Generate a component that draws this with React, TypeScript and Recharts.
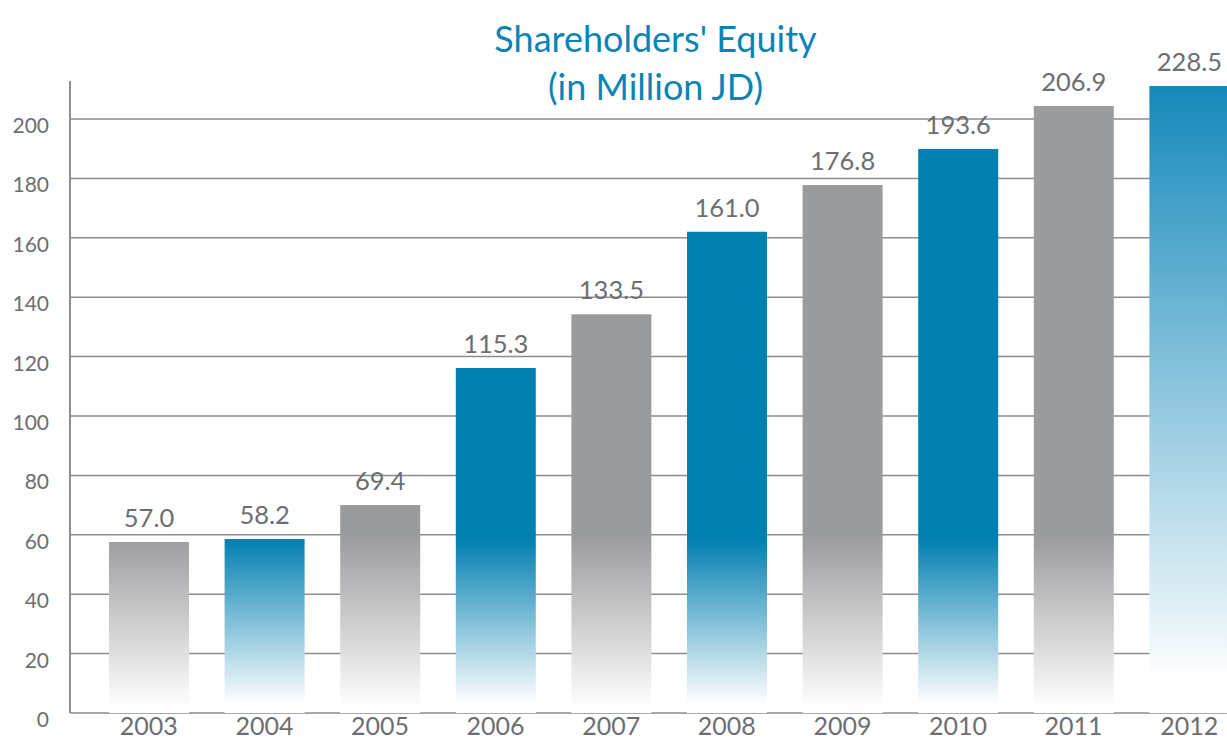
import { BarChart, Bar, XAxis, YAxis, CartesianGrid, Cell, LabelList } from "recharts";

const years = ["2003", "2004", "2005", "2006", "2007", "2008", "2009", "2010", "2011", "2012"];
const equity = [57.0, 58.2, 69.4, 115.3, 133.5, 161.0, 176.8, 193.6, 206.9, 228.5];
// bar heights as they are drawn in the source (the top of the scale is squeezed there)
const drawnHeights = [57.6, 58.6, 70.0, 116.2, 134.3, 162.0, 177.8, 189.9, 204.4, 211.1];
const yTicks = [0, 20, 40, 60, 80, 100, 120, 140, 160, 180, 200];

const data = years.map((year, i) => ({
  year,
  height: drawnHeights[i],
  label: equity[i].toFixed(1),
}));

const TEXT = "#6d6e71";
const FONT = "Lato, 'Open Sans', sans-serif";

function YTick({ x, y, payload }: any) {
  return (
    <text x={x - 21} y={y + 14} textAnchor="end" fill={TEXT} fontSize={21} fontFamily={FONT}>
      {payload.value}
    </text>
  );
}

function XTick({ x, y, payload }: any) {
  return (
    <text x={x} y={y + 22} textAnchor="middle" fill={TEXT} fontSize={25} fontFamily={FONT}>
      {payload.value}
    </text>
  );
}

function barFill(i: number) {
  if (i === years.length - 1) return "url(#fadeLast)";
  return i % 2 === 1 ? "url(#fadeBlue)" : "url(#fadeGray)";
}

export default function App() {
  return (
    <div
      style={{
        position: "fixed",
        left: 0,
        top: 0,
        width: 1227,
        height: 741,
        overflow: "hidden",
        background: "#fff",
      }}
    >
      <BarChart
        width={1247}
        height={741}
        data={data}
        margin={{ top: 81, right: 0, bottom: 0, left: 0 }}
      >
        <defs>
          <linearGradient id="fadeGray" gradientUnits="userSpaceOnUse" x1="0" y1="535" x2="0" y2="708">
            <stop offset="0" stopColor="#9a9b9d" />
            <stop offset="1" stopColor="#ffffff" />
          </linearGradient>
          <linearGradient id="fadeBlue" gradientUnits="userSpaceOnUse" x1="0" y1="540" x2="0" y2="704">
            <stop offset="0" stopColor="#0380b2" />
            <stop offset="1" stopColor="#ffffff" />
          </linearGradient>
          <linearGradient id="fadeLast" gradientUnits="userSpaceOnUse" x1="0" y1="86" x2="0" y2="683">
            <stop offset="0" stopColor="#1589bb" />
            <stop offset="1" stopColor="#ffffff" />
          </linearGradient>
        </defs>
        <CartesianGrid vertical={false} stroke="#8c8d8f" strokeWidth={1.5} syncWithTicks />
        <XAxis
          dataKey="year"
          height={28}
          interval={0}
          axisLine={false}
          tickLine={false}
          tickSize={0}
          tickMargin={0}
          padding={{ left: 21, right: 0 }}
          tick={<XTick />}
        />
        <YAxis
          width={70}
          domain={[0, 212.8]}
          ticks={yTicks}
          interval={0}
          axisLine={{ stroke: "#8d8e90", strokeWidth: 2 }}
          tickLine={false}
          tickSize={0}
          tickMargin={0}
          tick={<YTick />}
        />
        <Bar dataKey="height" barSize={80} isAnimationActive={false}>
          {data.map((d, i) => (
            <Cell key={d.year} fill={barFill(i)} />
          ))}
          <LabelList
            dataKey="label"
            position="top"
            offset={15}
            fill={TEXT}
            fontSize={25.5}
            fontFamily={FONT}
          />
        </Bar>
      </BarChart>
      <div
        style={{
          position: "absolute",
          left: 0,
          top: 14,
          width: 1311,
          textAlign: "center",
          color: "#0b84b5",
          fontFamily: FONT,
          fontSize: 36,
          lineHeight: "48px",
        }}
      >
        Shareholders' Equity
        <br />
        (in Million JD)
      </div>
    </div>
  );
}
